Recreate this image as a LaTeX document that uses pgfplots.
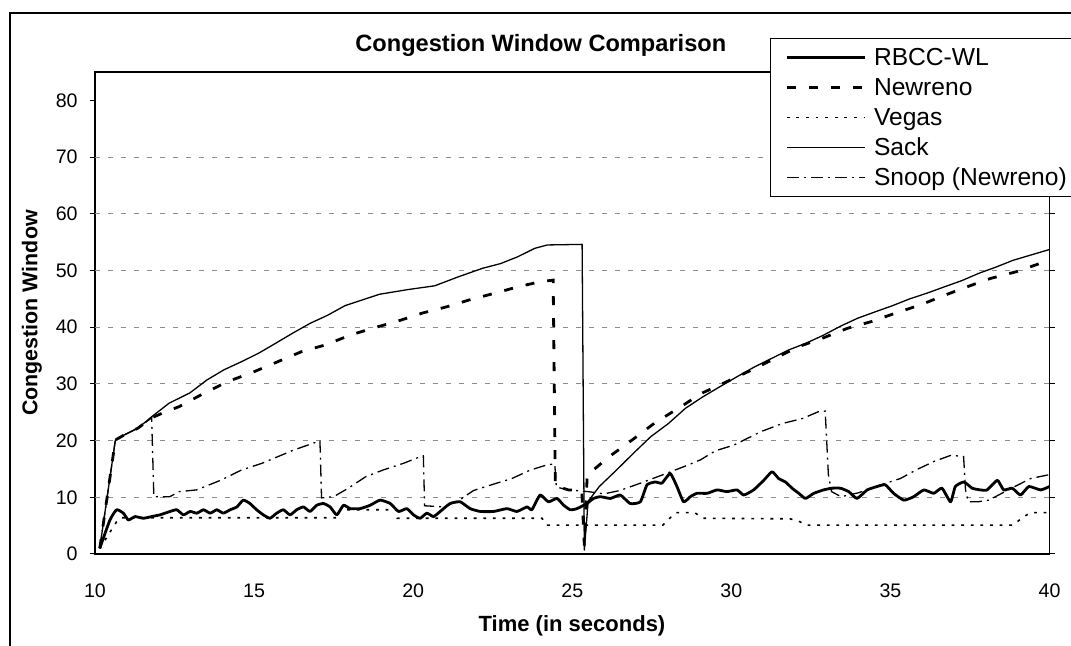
\documentclass[border=0pt]{standalone}
\usepackage{fontspec}
\setmainfont{Liberation Sans}
\usepackage{pgfplots}
\pgfplotsset{compat=1.18}
\begin{document}
\begin{tikzpicture}
\useasboundingbox (0,0) rectangle (535.5pt,323pt);
% outer chart border
\draw[line width=0.7pt] (5pt,-10pt) -- (5pt,316.5pt) -- (560pt,316.5pt);
\begin{axis}[
  at={(47.5pt,46pt)}, anchor=south west,
  scale only axis, width=477.25pt, height=241pt,
  xmin=10, xmax=40, ymin=0, ymax=85,
  xtick={10,15,...,40}, ytick={0,10,...,80},
  /pgf/number format/assume math mode=true,
  tick label style={font=\fontsize{9.8}{11}\selectfont},
  xticklabel style={inner sep=0pt, anchor=north, yshift=-12pt, text height=7pt, text depth=0pt},
  yticklabel style={inner sep=0pt, anchor=east, xshift=-6pt},
  tick align=outside, major tick length=2.5pt,
  xtick style={draw=none},
  ytick style={black, line width=0.5pt},
  axis line style={line width=0.7pt},
  extra y ticks={10,20,...,70}, extra y tick labels={},
  extra y tick style={grid=major, major tick length=0pt},
  grid style={black!45, line width=0.4pt, dash pattern=on 2.5pt off 4pt},
  legend style={at={(0.7072,1.0705)}, anchor=north west, draw=black, fill=white,
    inner xsep=7.5pt, inner ysep=2pt, column sep=3.9pt,
    font=\fontsize{12.3}{15}\selectfont,
    nodes={inner sep=0pt, text height=11.5pt, text depth=3.5pt}},
  legend cell align=left,
  legend image code/.code={\draw[#1] (0pt,0pt) -- (39pt,0pt);},
]
% RBCC-WL
\addplot[black, line width=1.4pt, line join=round, smooth, tension=0.3] coordinates {
(10.15,1.0) (10.47,6) (10.68,7.8) (10.89,7.2) (11.05,6) (11.26,6.6) (11.52,6.3) (11.78,6.6) (12.04,6.9) (12.36,7.5) (12.57,7.8) (12.78,6.9) (12.99,7.5) (13.2,7.2) (13.41,7.8) (13.62,7.2) (13.83,7.8) (14.03,7.2) (14.25,7.8) (14.46,8.3) (14.66,9.5) (14.87,8.9) (15.08,7.8) (15.29,6.9) (15.5,6.3) (15.71,7.2) (15.92,7.8) (16.13,6.9) (16.34,7.8) (16.55,8.3) (16.76,7.5) (16.97,8.6) (17.18,8.9) (17.39,8.3) (17.6,6.9) (17.81,8.6) (18.02,8) (18.33,8) (18.65,8.6) (18.96,9.5) (19.28,8.9) (19.54,7.5) (19.8,8) (20.01,6.9) (20.22,6.3) (20.43,7.2) (20.64,6.6) (20.85,7.5) (21.16,8.9) (21.48,9.2) (21.79,8) (22.11,7.5) (22.53,7.5) (22.95,8) (23.26,7.5) (23.58,8.3) (23.73,7.8) (23.99,10.4) (24.25,9.2) (24.52,9.8) (24.73,8.6) (24.94,7.8) (25.15,8) (25.46,8.9) (25.67,9.8) (25.88,10.1) (26.2,9.8) (26.51,10.4) (26.82,8.9) (27.14,9.2) (27.35,12.2) (27.61,12.7) (27.82,12.5) (28.08,14.2) (28.29,11.9) (28.5,9.2) (28.71,10.1) (28.92,10.7) (29.24,10.7) (29.55,11.3) (29.86,11) (30.18,11.3) (30.39,10.4) (30.7,11.3) (31.02,13) (31.28,14.5) (31.49,13.3) (31.7,12.7) (31.91,11.6) (32.12,10.7) (32.33,9.8) (32.59,10.7) (32.9,11.3) (33.15,11.6) (33.43,11.6) (33.69,11) (33.95,9.8) (34.27,11.3) (34.58,11.9) (34.84,12.2) (35.1,10.7) (35.42,9.5) (35.73,10.1) (36.05,11.3) (36.36,10.7) (36.62,11.6) (36.89,9.2) (37.04,11.9) (37.31,12.7) (37.57,11.6) (37.83,11.3) (38.04,11.3) (38.36,13) (38.56,11.3) (38.83,11.6) (39.09,10.4) (39.35,11.9) (39.72,11.3) (40,11.9)
};
\addlegendentry{RBCC-WL}
% Newreno
\addplot[black, line width=1.4pt, dash pattern=on 4.5pt off 6.5pt] coordinates {
(10.15,1.0) (10.64,20.1) (10.92,21) (11.35,22.2) (11.78,24.0) (12.1,24.8) (12.65,26) (13.41,28.3) (14.17,30.4) (14.98,32.1) (15.74,33.9) (16.5,35.7) (17.26,36.9) (18.02,38.6) (18.72,39.8) (19.48,41) (20.3,42.5) (21.06,43.6) (21.76,44.8) (22.57,46) (23.28,47.1) (23.98,48) (24.4,48.3) (24.47,12) (24.88,11.3) (25.3,11.2) (25.38,1.5) (25.47,13.9) (26.17,17.2) (26.88,20.1) (27.64,23.3) (28.34,25.7) (29.05,28.3) (29.86,30.4) (30.62,32.4) (31.38,34.5) (32.08,36.5) (32.84,38) (33.65,39.8) (34.41,41) (35.17,42.5) (35.93,43.9) (36.69,45.6) (37.4,47.1) (38.15,48.6) (38.97,49.8) (39.73,51.3) (40,51.8)
};
\addlegendentry{Newreno}
% Vegas
\addplot[black, line width=0.8pt, dash pattern=on 1.4pt off 3.4pt] coordinates {
(10.15,1.0) (10.68,5.7) (10.85,6.4) (17.6,6.4) (17.7,7.8) (19.48,7.8) (19.5,6.3) (24.05,6.3) (24.2,5.1) (27.85,5.1) (28.1,6.5) (28.25,7.3) (28.85,7.3) (29.1,6.3) (31.85,6.2) (32.15,5.7) (32.35,5.1) (38.85,5.1) (39.15,6.4) (39.4,7.3) (40,7.3)
};
\addlegendentry{Vegas}
% Sack
\addplot[black, line width=0.65pt, line join=round] coordinates {
(10.15,1.0) (10.64,20.1) (10.92,21) (11.35,22.2) (11.78,24.2) (12.33,26.6) (12.98,28.4) (13.52,30.7) (14.06,32.5) (14.6,33.9) (15.14,35.4) (15.69,37.2) (16.23,39) (16.77,40.7) (17.31,42.1) (17.86,43.8) (18.4,44.8) (18.94,45.8) (19.8,46.6) (20.68,47.3) (21.43,48.9) (22.19,50.4) (22.74,51.2) (23.28,52.4) (23.82,53.9) (24.22,54.5) (25.31,54.6) (25.38,0.7) (25.5,9.3) (25.85,11.9) (26.39,14.8) (26.93,17.8) (27.47,20.7) (28.02,23) (28.56,25.7) (29.1,27.7) (29.64,29.5) (30.19,31.3) (30.73,33) (31.27,34.5) (31.81,36) (32.36,37.2) (32.9,38.6) (33.44,40.2) (33.98,41.6) (34.52,42.7) (35.07,43.8) (35.61,45) (36.15,46) (36.69,47.1) (37.24,48.2) (37.78,49.5) (38.32,50.6) (38.86,51.8) (39.4,52.7) (39.94,53.6) (40,53.7)
};
\addlegendentry{Sack}
% Snoop (Newreno)
\addplot[black, line width=0.65pt, dash pattern=on 6pt off 2.5pt on 1pt off 2.5pt] coordinates {
(10.15,1.0) (10.64,20.1) (10.92,21) (11.35,22.2) (11.78,24.0) (11.85,10.1) (12.35,10.1) (12.65,11) (13.19,11.3) (13.95,13) (14.6,14.8) (15.25,16) (16.23,18.3) (16.99,19.8) (17.07,20.0) (17.12,9.9) (17.5,10.1) (17.96,11.6) (18.5,13.6) (19.05,14.8) (19.7,16) (20.24,17.2) (20.32,17.3) (20.36,8.5) (21.0,8.3) (21.53,9.8) (21.9,11.2) (22.63,12.5) (23.1,13.3) (23.68,14.8) (24.2,15.7) (24.45,15.9) (24.5,11.8) (24.88,11.3) (25.5,11) (26.0,10.6) (26.5,11.2) (27.15,12.5) (28.0,14.3) (28.6,15.6) (29.03,16.6) (29.5,18.2) (30.08,19.2) (30.94,21.6) (31.6,23) (32.24,23.9) (32.74,25.1) (32.95,25.2) (33.05,14) (33.15,11) (33.45,10.1) (34.0,10.8) (34.7,12.2) (35.31,13.3) (35.8,14.8) (36.36,16.3) (36.9,17.4) (37.3,17.2) (37.36,11.3) (37.45,9.2) (37.75,9.2) (38.1,9.5) (38.6,11) (39.4,13.3) (40,14)
};
\addlegendentry{Snoop (Newreno)\rule{40pt}{0pt}}
\end{axis}
\node[font=\bfseries\fontsize{11.8}{14}\selectfont] at (270.4pt,300.5pt) {Congestion Window Comparison};
\node[font=\bfseries\fontsize{10.7}{13}\selectfont, rotate=90] at (16pt,166.5pt) {Congestion Window};
\node[font=\bfseries\fontsize{11}{13}\selectfont] at (286pt,10pt) {Time (in seconds)};
\end{tikzpicture}
\end{document}
